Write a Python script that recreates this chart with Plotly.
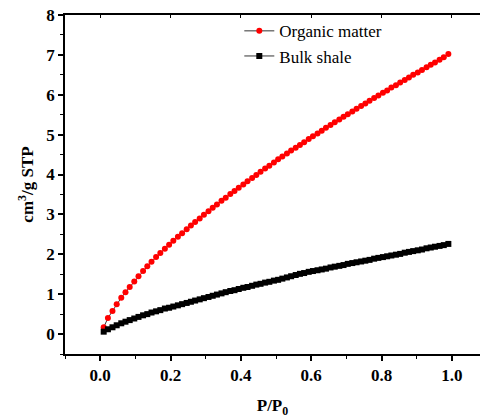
import plotly.graph_objects as go

p_p0 = [0.010, 0.022, 0.035, 0.047, 0.060, 0.072, 0.084, 0.097, 0.109, 0.122,
        0.134, 0.146, 0.159, 0.171, 0.184, 0.196, 0.208, 0.221, 0.233, 0.246,
        0.258, 0.270, 0.283, 0.295, 0.308, 0.320, 0.332, 0.345, 0.357, 0.370,
        0.382, 0.394, 0.407, 0.419, 0.432, 0.444, 0.456, 0.469, 0.481, 0.494,
        0.506, 0.518, 0.531, 0.543, 0.556, 0.568, 0.580, 0.593, 0.605, 0.618,
        0.630, 0.642, 0.655, 0.667, 0.680, 0.692, 0.704, 0.717, 0.729, 0.742,
        0.754, 0.766, 0.779, 0.791, 0.804, 0.816, 0.828, 0.841, 0.853, 0.866,
        0.878, 0.890, 0.903, 0.915, 0.928, 0.940, 0.952, 0.965, 0.977, 0.990]

organic_matter = [0.17, 0.40, 0.58, 0.75, 0.91, 1.05, 1.18, 1.32, 1.45, 1.58,
                  1.70, 1.81, 1.93, 2.03, 2.14, 2.24, 2.34, 2.44, 2.53, 2.63,
                  2.72, 2.81, 2.90, 2.99, 3.08, 3.17, 3.25, 3.34, 3.42, 3.51,
                  3.59, 3.67, 3.75, 3.83, 3.91, 3.99, 4.07, 4.15, 4.22, 4.30,
                  4.38, 4.45, 4.53, 4.60, 4.67, 4.74, 4.81, 4.89, 4.96, 5.03,
                  5.10, 5.17, 5.24, 5.31, 5.38, 5.45, 5.51, 5.58, 5.65, 5.72,
                  5.78, 5.85, 5.92, 5.98, 6.05, 6.11, 6.18, 6.24, 6.31, 6.37,
                  6.43, 6.50, 6.56, 6.62, 6.69, 6.75, 6.81, 6.88, 6.94, 7.02]

bulk_shale = [0.06, 0.12, 0.17, 0.22, 0.27, 0.31, 0.35, 0.39, 0.43, 0.47,
              0.50, 0.54, 0.57, 0.60, 0.64, 0.66, 0.69, 0.72, 0.75, 0.78,
              0.81, 0.84, 0.87, 0.90, 0.93, 0.96, 0.99, 1.02, 1.05, 1.08,
              1.10, 1.13, 1.16, 1.18, 1.21, 1.24, 1.26, 1.29, 1.31, 1.34,
              1.36, 1.39, 1.42, 1.45, 1.48, 1.51, 1.53, 1.56, 1.58, 1.60,
              1.62, 1.64, 1.67, 1.69, 1.71, 1.73, 1.76, 1.78, 1.80, 1.82,
              1.84, 1.86, 1.89, 1.91, 1.93, 1.95, 1.97, 1.99, 2.01, 2.04,
              2.06, 2.08, 2.10, 2.12, 2.15, 2.17, 2.19, 2.21, 2.23, 2.26]

x_ticks = [0.0, 0.2, 0.4, 0.6, 0.8, 1.0]
x_tick_labels = ["0.0", "0.2", "0.4", "0.6", "0.8", "1.0"]
y_ticks = [0, 1, 2, 3, 4, 5, 6, 7, 8]
y_tick_labels = ["0", "1", "2", "3", "4", "5", "6", "7", "8"]

SERIF = "Times New Roman"

fig = go.Figure()
fig.add_trace(go.Scatter(
    x=p_p0, y=organic_matter, mode="lines+markers", name="Organic matter",
    line=dict(color="#333333", width=1),
    marker=dict(color="#ff0000", size=6, symbol="circle", line=dict(width=0)),
))
fig.add_trace(go.Scatter(
    x=p_p0, y=bulk_shale, mode="lines+markers", name="Bulk shale",
    line=dict(color="#333333", width=1),
    marker=dict(color="#000000", size=6, symbol="square", line=dict(width=0)),
))

axis_common = dict(
    showline=True, linecolor="#000000", linewidth=1.5, showgrid=False,
    zeroline=False, ticks="outside", tickcolor="#000000", tickwidth=1.5,
    ticklen=5,
    tickfont=dict(family=SERIF, size=17, color="#000000", weight="bold"),
)

fig.update_layout(
    width=480, height=418,
    margin=dict(l=65, r=0, t=15, b=64),
    paper_bgcolor="white", plot_bgcolor="white",
    showlegend=True,
    font=dict(family=SERIF, color="#000000"),
    legend=dict(
        x=0.42, y=1.005, xanchor="left", yanchor="top",
        bgcolor="rgba(0,0,0,0)",
        font=dict(family=SERIF, size=17, color="#000000"),
        tracegroupgap=0, itemwidth=30,
    ),
    xaxis=dict(
        **axis_common,
        range=[-0.1, 1.08], tickvals=x_ticks, ticktext=x_tick_labels,
        minor=dict(dtick=0.1, tick0=0, ticks="outside", ticklen=3,
                   tickcolor="#000000", tickwidth=1.2),
        mirror=False,
        title=dict(text="P/P<sub>0</sub>",
                   font=dict(family=SERIF, size=17, color="#000000", weight="bold"),
                   standoff=18),
    ),
    xaxis2=dict(
        overlaying="x", side="top", matches="x", range=[-0.1, 1.08],
        showline=True, linecolor="#000000", linewidth=1.5, showgrid=False,
        zeroline=False, ticks="inside", tickcolor="#000000", tickwidth=1.2,
        ticklen=3, tickvals=[0.0, 0.2, 0.4, 0.6, 0.8, 1.0],
        showticklabels=False,
    ),
    yaxis=dict(
        **axis_common,
        range=[-0.5, 8], tickvals=y_ticks, ticktext=y_tick_labels,
        minor=dict(dtick=0.5, tick0=0, ticks="outside", ticklen=3,
                   tickcolor="#000000", tickwidth=1.2),
        title=dict(text="cm<sup>3</sup>/g STP",
                   font=dict(family=SERIF, size=17, color="#000000", weight="bold"),
                   standoff=8),
    ),
)

# invisible trace to make the top axis render
fig.add_trace(go.Scatter(x=[p_p0[0]], y=[organic_matter[0]], xaxis="x2",
                         mode="markers", marker=dict(opacity=0),
                         showlegend=False, hoverinfo="skip"))

fig.write_html("out.html")
